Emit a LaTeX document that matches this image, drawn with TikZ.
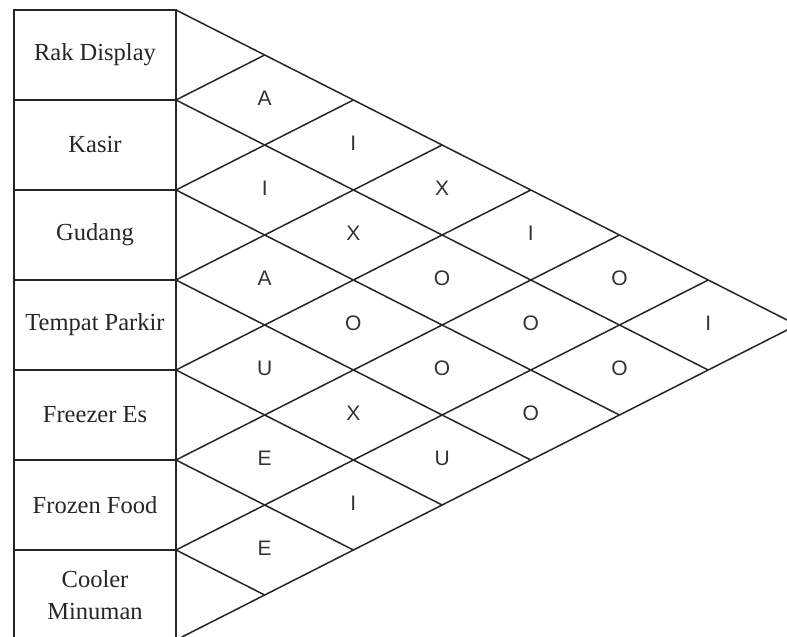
\documentclass[tikz,border=0pt]{standalone}
\usepackage{fontspec}
\setmainfont{Liberation Serif}
\newfontfamily\relfont{Liberation Sans}
\begin{document}
\begin{tikzpicture}[x=1pt,y=-1pt,
  gridline/.style={line width=1.5pt, draw=black!85},
  dept/.style={draw=black!85, line width=1.5pt, rectangle, minimum width=162pt,
    minimum height=90pt, inner sep=0pt, align=center, text=black!85,
    font=\fontsize{24.5}{32}\selectfont},
  rel/.style={inner sep=0pt, text=black!80, font=\relfont\fontsize{21}{25}\selectfont}]
\useasboundingbox (0,0) rectangle (787,637);
\clip (0,0) rectangle (787,637);
\fill[white] (0,0) rectangle (787,637);
\def\du{88.7}
% department boxes
\node[dept] (d0) at (95,55)  {Rak Display};
\node[dept] (d1) at (95,145) {Kasir};
\node[dept] (d2) at (95,235) {Gudang};
\node[dept] (d3) at (95,325) {Tempat Parkir};
\node[dept] (d4) at (95,415) {Freezer Es};
\node[dept] (d5) at (95,505) {Frozen Food};
\node[dept] (d6) at (95,595) {Cooler\\Minuman};
% grid points: row boundaries, top edge, bottom edge
\foreach \k in {0,...,7} {
  \coordinate (L\k) at (176,{10+90*\k});
  \coordinate (T\k) at ({176+\k*\du},{10+45*\k});
  \coordinate (D\k) at ({176+\k*\du},{640-45*\k});
}
% diagonal lines of the relationship chart
\foreach \k in {0,...,6} {
  \pgfmathtruncatemacro\m{7-\k}
  \draw[gridline] (L\k) -- (D\m);
}
\foreach \k in {1,...,7} {
  \draw[gridline] (L\k) -- (T\k);
}
% relationship codes
\foreach \i/\j/\t in {0/1/A,1/2/I,0/2/I,2/3/A,1/3/X,0/3/X,3/4/U,2/4/O,1/4/O,0/4/I,
    4/5/E,3/5/X,2/5/O,1/5/O,0/5/O,5/6/E,4/6/I,3/6/U,2/6/O,1/6/O,0/6/I} {
  \node[rel] (r\i\j) at ({176+(\j-\i)*\du},{10+(\i+\j+1)*45-1.5}) {\t};
}
\end{tikzpicture}
\end{document}
